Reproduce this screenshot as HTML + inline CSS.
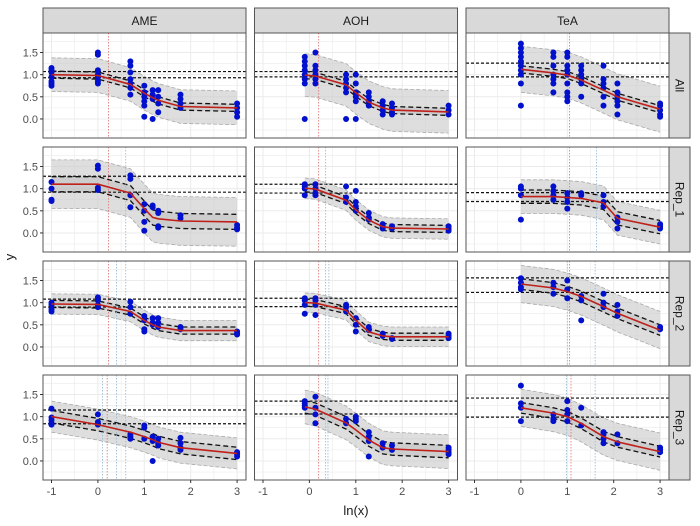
<!DOCTYPE html>
<html><head><meta charset="utf-8"><style>
body{margin:0;background:#fff;}
svg{display:block;font-family:"Liberation Sans",sans-serif;}
</style></head><body>
<svg id="chart" width="700" height="526" viewBox="0 0 700 526"></svg>
<script>
const colNames = ["AME","AOH","TeA"];
const rowNames = ["All","Rep_1","Rep_2","Rep_3"];
const xTicks = [-1,0,1,2,3];
const yTicks = [0,0.5,1,1.5];
const yTickLabels = ["0.0","0.5","1.0","1.5"];
const xsAME = [-1,0,0.7,1,1.18,1.3,1.78,3];
const xsAOH = [-0.1,0.13,0.79,1.0,1.28,1.58,1.78,3];
const xsTeA = [0,0.7,1,1.3,1.78,2.08,3];
// medians per panel [row][col]
const medians = [
 [[1.0,0.98,0.78,0.58,0.48,0.42,0.28,0.25],[0.99,0.97,0.77,0.59,0.38,0.25,0.2,0.16],[1.12,1.04,0.99,0.88,0.65,0.5,0.22]],
 [[1.1,1.1,0.9,0.55,0.35,0.32,0.27,0.25],[1.01,0.99,0.74,0.52,0.29,0.14,0.11,0.09],[0.82,0.82,0.8,0.78,0.68,0.33,0.13]],
 [[0.97,0.96,0.8,0.6,0.5,0.45,0.37,0.37],[1.0,0.99,0.83,0.6,0.34,0.25,0.23,0.23],[1.42,1.33,1.25,1.14,0.91,0.76,0.38]],
 [[1.0,0.82,0.65,0.55,0.48,0.42,0.3,0.17],[1.22,1.17,0.86,0.7,0.47,0.3,0.27,0.21],[1.2,1.08,1.0,0.85,0.55,0.43,0.21]]
];
const ciWidth = [[0.08,0.08,0.08],[0.17,0.08,0.15],[0.08,0.08,0.12],[0.14,0.14,0.12]];
const bandWidth = [[0.38,0.48,0.52],[0.55,0.23,0.38],[0.23,0.22,0.42],[0.35,0.38,0.42]];
const refLines = [
 [[1.07,0.93],[1.07,0.95],[1.26,0.95]],
 [[1.28,0.92],[1.1,0.9],[0.91,0.71]],
 [[1.08,0.9],[1.1,0.91],[1.56,1.23]],
 [[1.15,0.84],[1.35,1.06],[1.42,0.99]]
];
const redVLines = [[0.23,0.2,1.05],[0.23,0.2,1.05],[0.23,0.2,1.05],[0.2,0.2,1.08]];
const blueVLines = [
 [[],[],[]],
 [[0.6],[0.35],[1.63]],
 [[0.4,0.6],[0.35,0.42],[1.0,1.6]],
 [[0.1,0.4,0.6],[0.35,0.4],[0.98,1.6]]
];
const points = [
 [
  [[0.75,0.85,0.95,1.05,1.15,0.8,1.1],[1.5,1.45,1.1,1.0,0.95,0.85,0.8],[1.3,1.2,1.05,0.9,0.8,0.7,0.55],[0.75,0.6,0.5,0.4,0.3,0.05,0.6],[0.65,0.55,0.45,0.0],[0.65,0.5,0.35,0.15],[0.55,0.45,0.35,0.25],[0.35,0.25,0.15,0.05]],
  [[1.4,1.3,1.2,1.1,1.0,0.9,0.8,0.0],[1.5,1.2,1.1,1.0,0.9,0.8],[1.0,0.9,0.8,0.7,0.6,0.0],[1.0,0.8,0.6,0.5,0.4,0.0],[0.6,0.5,0.4,0.3],[0.4,0.3,0.2,0.1],[0.35,0.25,0.15,0.1],[0.3,0.2,0.1]],
  [[1.7,1.6,1.5,1.4,1.3,1.2,1.1,1.0,0.8,0.3],[1.5,1.4,1.2,1.0,0.9,0.8,0.6],[1.5,1.4,1.2,1.1,1.0,0.8,0.6,0.5,0.4],[1.2,1.1,1.0,0.9,0.8,0.5],[1.2,0.9,0.8,0.7,0.5,0.3],[0.8,0.6,0.5,0.4,0.3,0.1],[0.35,0.3,0.2,0.1,0.05]]
 ],
 [
  [[1.15,1.0,0.75,0.72],[1.52,1.45,1.02,0.97],[1.3,1.22,0.85,0.58],[0.65,0.5,0.25,0.05],[0.62,0.58],[0.5,0.45,0.15,0.12],[0.4,0.33],[0.18,0.12,0.08]],
  [[1.1,1.05,1.0,0.85],[1.1,1.0,0.9,0.85],[1.05,0.8,0.7],[0.95,0.7,0.6,0.5],[0.45,0.35,0.3],[0.2,0.15,0.1],[0.15,0.1],[0.15,0.1,0.05]],
  [[1.05,1.0,0.85,0.3],[1.05,0.95,0.85,0.75],[0.9,0.8,0.7,0.55],[0.9,0.85],[0.85,0.7,0.6],[0.35,0.25,0.1],[0.2,0.15,0.1]]
 ],
 [
  [[1.0,0.95,0.85,0.8],[1.12,1.05,0.95,0.9],[1.02,0.9,0.75],[0.7,0.6,0.4,0.35],[0.65,0.55,0.5],[0.65,0.55,0.45],[0.45,0.4],[0.35,0.3,0.28]],
  [[1.1,1.05,0.95,0.75],[1.1,1.05,0.95,0.72],[0.95,0.9,0.8],[0.65,0.5,0.35],[0.45,0.38],[0.3,0.25],[0.2,0.18],[0.3,0.25,0.2]],
  [[1.55,1.45,1.35,1.3],[1.45,1.35,1.2],[1.5,1.3,1.1],[1.15,1.05,0.6],[1.2,1.0,0.9],[0.95,0.8,0.7],[0.45,0.4]]
 ],
 [
  [[1.18,0.98,0.92,0.85,0.82],[1.05,0.88,0.82],[0.6,0.55,0.5],[0.8,0.75,0.5],[0.55,0.45,0.0],[0.5,0.4,0.35],[0.52,0.4,0.3,0.25],[0.2,0.15,0.1]],
  [[1.35,1.3,1.25,1.2],[1.45,1.2,1.05,0.85],[0.95,0.85],[1.0,0.95,0.9],[0.65,0.55,0.45,0.1],[0.4,0.3],[0.35,0.25],[0.3,0.25,0.2,0.15]],
  [[1.7,1.3,1.2,0.9],[1.05,0.95,0.9],[1.35,1.15,1.05,0.9],[1.2,0.8],[0.65,0.6,0.5,0.4],[0.6,0.4],[0.3,0.25,0.2]]
 ]
];
const xsByCol = [xsAME, xsAOH, xsTeA];

const NS = "http://www.w3.org/2000/svg";
const svg = document.getElementById("chart");
const colLeft = [43,254.5,466], panelW = 203, rowTop = [33,147,261,375], panelH = 105;
function sx(c,x){return colLeft[c]+8.5+(x+1)*46.4;}
function sy(r,v){return rowTop[r]+19.5+(1.5-v)*44.3;}
function mk(tag,attrs,parent){const e=document.createElementNS(NS,tag);for(const k in attrs)e.setAttribute(k,attrs[k]);(parent||svg).appendChild(e);return e;}
function poly(pts){return pts.map(p=>p[0].toFixed(1)+","+p[1].toFixed(1)).join(" ");}

// column strips
colNames.forEach((n,c)=>{
  const g=mk("g",{});
  
  
  mk("rect",{x:colLeft[c],y:8,width:panelW,height:25,fill:"#d9d9d9",stroke:"#555","stroke-width":1},g);
  const t=mk("text",{x:colLeft[c]+panelW/2,y:25,"text-anchor":"middle","font-size":12,fill:"#1a1a1a"},g);t.textContent=n;
});
rowNames.forEach((n,r)=>{
  const g=mk("g",{});
  
  
  mk("rect",{x:669,y:rowTop[r],width:21,height:panelH,fill:"#d9d9d9",stroke:"#555","stroke-width":1},g);
  const cx=679.5, cy=rowTop[r]+panelH/2;
  const t=mk("text",{x:cx,y:cy+4,"text-anchor":"middle","font-size":12,fill:"#1a1a1a",transform:`rotate(90 ${cx} ${cy})`},g);t.textContent=n;
});

for(let r=0;r<4;r++){for(let c=0;c<3;c++){
  const g=mk("g",{});
  
  
  const L=colLeft[c],T=rowTop[r];
  mk("rect",{x:L,y:T,width:panelW,height:panelH,fill:"#fff"},g);
  const clipId="clip"+r+c;
  const cp=mk("clipPath",{id:clipId},g);mk("rect",{x:L,y:T,width:panelW,height:panelH},cp);
  const inner=mk("g",{"clip-path":`url(#${clipId})`},g);
  for(let v=-0.25;v<=1.9;v+=0.25){const y=sy(r,v);mk("line",{x1:L,x2:L+panelW,y1:y,y2:y,stroke:"#ebebeb","stroke-width":(Math.abs(v*2-Math.round(v*2))<0.01)?1:0.6},inner);}
  for(let x=-1;x<=3;x+=0.5){const X=sx(c,x);mk("line",{x1:X,x2:X,y1:T,y2:T+panelH,stroke:"#ebebeb","stroke-width":Number.isInteger(x)?1:0.6},inner);}
  const xs=xsByCol[c], med=medians[r][c], ci=ciWidth[r][c], bw=bandWidth[r][c];
  const up=xs.map((x,i)=>[sx(c,x),sy(r,med[i]+bw)]), dn=xs.map((x,i)=>[sx(c,x),sy(r,med[i]-bw)]);
  const band=mk("polygon",{points:poly(up.concat(dn.slice().reverse())),fill:"#c8c8c8","fill-opacity":0.6},inner);
  
  
  mk("polyline",{points:poly(up),fill:"none",stroke:"#aaa","stroke-dasharray":"4,2","stroke-width":0.8},inner);
  mk("polyline",{points:poly(dn),fill:"none",stroke:"#aaa","stroke-dasharray":"4,2","stroke-width":0.8},inner);
  const ciu=xs.map((x,i)=>[sx(c,x),sy(r,med[i]+ci)]), cid=xs.map((x,i)=>[sx(c,x),sy(r,med[i]-ci)]);
  mk("polygon",{points:poly(ciu.concat(cid.slice().reverse())),fill:"#b0b0b0","fill-opacity":0.35},inner);
  const l1=mk("polyline",{points:poly(ciu),fill:"none",stroke:"#111","stroke-dasharray":"5,3","stroke-width":1.3},inner);
  
  
  const l2=mk("polyline",{points:poly(cid),fill:"none",stroke:"#111","stroke-dasharray":"5,3","stroke-width":1.3},inner);
  
  
  refLines[r][c].forEach(v=>{const y=sy(r,v);mk("line",{x1:L,x2:L+panelW,y1:y,y2:y,stroke:"#111","stroke-dasharray":"3,2","stroke-width":1.2},inner);});
  mk("line",{x1:sx(c,redVLines[r][c]),x2:sx(c,redVLines[r][c]),y1:T,y2:T+panelH,stroke:"#e07070","stroke-dasharray":"1.5,1.5","stroke-width":0.8},inner);
  blueVLines[r][c].forEach(v=>{mk("line",{x1:sx(c,v),x2:sx(c,v),y1:T,y2:T+panelH,stroke:"#8fb8d8","stroke-dasharray":"1.5,1.5","stroke-width":0.8},inner);});
  points[r][c].forEach((arr,i)=>arr.forEach(v=>{
    const p=mk("circle",{cx:sx(c,xs[i]),cy:sy(r,v),r:3,fill:"#0010cc"},inner);
    
    
  }));
  const ml=mk("polyline",{points:poly(xs.map((x,i)=>[sx(c,x),sy(r,med[i])])),fill:"none",stroke:"#c0201a","stroke-width":1.6},inner);
  
  
  mk("rect",{x:L,y:T,width:panelW,height:panelH,fill:"none",stroke:"#555","stroke-width":1},g);
  if(c===0){yTicks.forEach((v,i)=>{const y=sy(r,v);mk("line",{x1:L-3,x2:L,y1:y,y2:y,stroke:"#333"},g);
    const t=mk("text",{x:L-5,y:y+4,"text-anchor":"end","font-size":11,fill:"#4d4d4d"},g);t.textContent=yTickLabels[i];});}
  if(r===3){xTicks.forEach(v=>{const X=sx(c,v);mk("line",{x1:X,x2:X,y1:T+panelH,y2:T+panelH+3,stroke:"#333"},g);
    const t=mk("text",{x:X,y:T+panelH+15,"text-anchor":"middle","font-size":11,fill:"#4d4d4d"},g);t.textContent=v;});}
}}
const xt=mk("text",{x:356,y:515,"text-anchor":"middle","font-size":13,fill:"#1a1a1a"});xt.textContent="ln(x)";


const yt=mk("text",{x:14,y:257,"text-anchor":"middle","font-size":13,fill:"#1a1a1a",transform:"rotate(-90 14 257)"});yt.textContent="y";


</script>
</body></html>
